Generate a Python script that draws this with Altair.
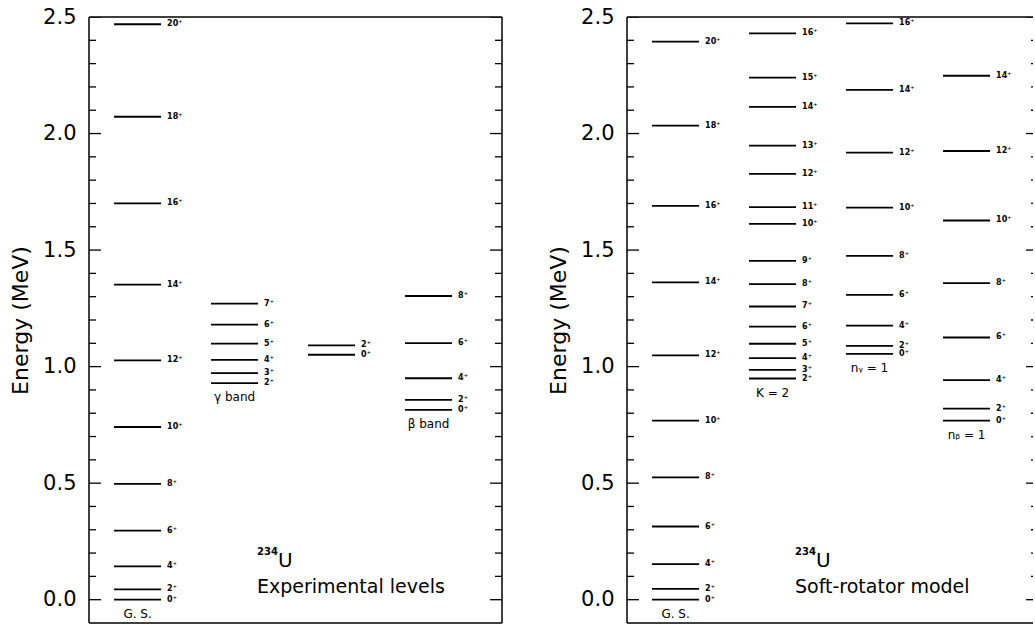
import altair as alt
import pandas as pd

FONT = "DejaVu Sans"

# ---------------- level energies (MeV) ----------------
# Experimental levels of 234U
exp_gs_spin = [0, 2, 4, 6, 8, 10, 12, 14, 16, 18, 20]
exp_gs_e = [0.0, 0.044, 0.143, 0.296, 0.497, 0.741, 1.027, 1.352, 1.700, 2.072, 2.469]
exp_gamma_spin = [2, 3, 4, 5, 6, 7]
exp_gamma_e = [0.929, 0.972, 1.029, 1.099, 1.180, 1.270]
exp_third_spin = [0, 2]
exp_third_e = [1.051, 1.091]
exp_beta_spin = [0, 2, 4, 6, 8]
exp_beta_e = [0.814, 0.857, 0.950, 1.101, 1.303]

# Soft-rotator model
mod_gs_spin = [0, 2, 4, 6, 8, 10, 12, 14, 16, 18, 20]
mod_gs_e = [0.0, 0.046, 0.153, 0.314, 0.525, 0.768, 1.048, 1.361, 1.690, 2.034, 2.394]
mod_k2_spin = [2, 3, 4, 5, 6, 7, 8, 9, 10, 11, 12, 13, 14, 15, 16]
mod_k2_e = [0.949, 0.986, 1.036, 1.098, 1.172, 1.258, 1.354, 1.454, 1.612, 1.684,
            1.827, 1.948, 2.114, 2.240, 2.430]
mod_ngamma_spin = [0, 2, 4, 6, 8, 10, 12, 14, 16]
mod_ngamma_e = [1.055, 1.089, 1.176, 1.308, 1.475, 1.682, 1.918, 2.187, 2.473]
mod_nbeta_spin = [0, 2, 4, 6, 8, 10, 12, 14]
mod_nbeta_e = [0.768, 0.820, 0.942, 1.125, 1.358, 1.627, 1.925, 2.248]

# axis ticks
major_ticks = [0.0, 0.5, 1.0, 1.5, 2.0, 2.5]
minor_ticks = [0.1, 0.2, 0.3, 0.4, 0.6, 0.7, 0.8, 0.9, 1.1, 1.2, 1.3, 1.4,
               1.6, 1.7, 1.8, 1.9, 2.1, 2.2, 2.3, 2.4]

# ---------------- layout ----------------
H = 606
COL_PX = 97.0            # pixels per column of levels
X_START = -0.258         # left margin before the first column, in column units
LINE_LEN = 0.485
Y_DOMAIN = [-0.1, 2.5]

yscale = alt.Scale(domain=Y_DOMAIN, nice=False, zero=False)


def level_table(bands):
    rows = []
    for col, caption, spins, energies in bands:
        for j, e in zip(spins, energies):
            rows.append({"x0": col, "x1": col + LINE_LEN, "E": e,
                         "label": f"{j}\u207a"})
    return pd.DataFrame(rows)


def caption_table(bands):
    rows = []
    for col, caption, spins, energies in bands:
        if caption:
            rows.append({"xc": col + LINE_LEN / 2, "E": min(energies), "caption": caption})
    return pd.DataFrame(rows)


def panel(bands, title_text, width, frame_right):
    """One level scheme; frame_right is where the right-hand frame edge sits."""
    xscale = alt.Scale(domain=[X_START, X_START + width / COL_PX], nice=False, zero=False)
    levels = level_table(bands)
    caps = caption_table(bands)

    yaxis = alt.Axis(values=major_ticks, format=".1f", ticks=False, domain=False,
                     grid=False, labelFont=FONT, labelFontSize=21, labelColor="black",
                     labelPadding=13, title="Energy (MeV)", titleFont=FONT,
                     titleFontSize=22, titleFontWeight="normal", titleColor="black",
                     titlePadding=10)

    lines = alt.Chart(levels).mark_rule(color="black", strokeWidth=1.8).encode(
        x=alt.X("x0:Q", scale=xscale, axis=None),
        x2="x1:Q",
        y=alt.Y("E:Q", scale=yscale, axis=yaxis),
    )
    labels = alt.Chart(levels).mark_text(
        align="left", baseline="middle", dx=6, font=FONT, fontSize=8,
        fontWeight="bold", color="black"
    ).encode(x=alt.X("x1:Q", scale=xscale), y=alt.Y("E:Q", scale=yscale), text="label:N")

    captions = alt.Chart(caps).mark_text(
        align="center", baseline="middle", dy=14, font=FONT, fontSize=12, color="black"
    ).encode(x=alt.X("xc:Q", scale=xscale), y=alt.Y("E:Q", scale=yscale), text="caption:N")

    tick_layers = []
    for vals, length in ((major_ticks, 12), (minor_ticks, 7)):
        tdf = pd.DataFrame({"t": vals})
        for xa, xb in ((0, length), (frame_right - length, frame_right)):
            tick_layers.append(
                alt.Chart(tdf).mark_rule(color="black", strokeWidth=1.3, clip=True).encode(
                    y=alt.Y("t:Q", scale=yscale),
                    x=alt.value(xa), x2=alt.value(xb))
            )

    # frame: left, top, bottom edges, plus the right edge when it lies inside the panel
    frame = [
        alt.Chart().mark_rule(color="black", strokeWidth=1.5).encode(
            x=alt.value(0), y=alt.value(0), y2=alt.value(H)),
        alt.Chart().mark_rule(color="black", strokeWidth=1.5).encode(
            x=alt.value(0), x2=alt.value(width), y=alt.value(0)),
        alt.Chart().mark_rule(color="black", strokeWidth=1.5).encode(
            x=alt.value(0), x2=alt.value(width), y=alt.value(H)),
    ]
    if frame_right <= width:
        frame.append(alt.Chart().mark_rule(color="black", strokeWidth=1.5).encode(
            x=alt.value(width), y=alt.value(0), y2=alt.value(H)))

    sup = alt.Chart().mark_text(align="left", baseline="middle", font=FONT,
                                fontSize=10, fontWeight="bold", color="black").encode(
        x=alt.value(168), y=alt.value(535), text=alt.value("234"))
    nucleus = alt.Chart().mark_text(align="left", baseline="alphabetic", font=FONT,
                                    fontSize=20, color="black").encode(
        x=alt.value(189), y=alt.value(550), text=alt.value("U"))
    title = alt.Chart().mark_text(align="left", baseline="alphabetic", font=FONT,
                                  fontSize=19, color="black").encode(
        x=alt.value(168), y=alt.value(576), text=alt.value(title_text))

    return alt.layer(lines, labels, captions, *tick_layers, *frame, sup, nucleus,
                     title).properties(width=width, height=H,
                                       view=alt.ViewBackground(strokeOpacity=0))


left = panel([
    (0, "G. S.", exp_gs_spin, exp_gs_e),
    (1, "\u03b3 band", exp_gamma_spin, exp_gamma_e),
    (2, "", exp_third_spin, exp_third_e),
    (3, "\u03b2 band", exp_beta_spin, exp_beta_e),
], "Experimental levels", width=413, frame_right=413)

right = panel([
    (0, "G. S.", mod_gs_spin, mod_gs_e),
    (1, "K = 2", mod_k2_spin, mod_k2_e),
    (2, "n\u1d67 = 1", mod_ngamma_spin, mod_ngamma_e),
    (3, "n\u1d66 = 1", mod_nbeta_spin, mod_nbeta_e),
], "Soft-rotator model", width=406, frame_right=411)

chart = alt.hconcat(left, right, spacing=44).properties(
    padding={"left": 9, "top": 6, "right": 0, "bottom": 0}
)

chart.save("out.html", embed_options={"renderer": "svg", "actions": False})
